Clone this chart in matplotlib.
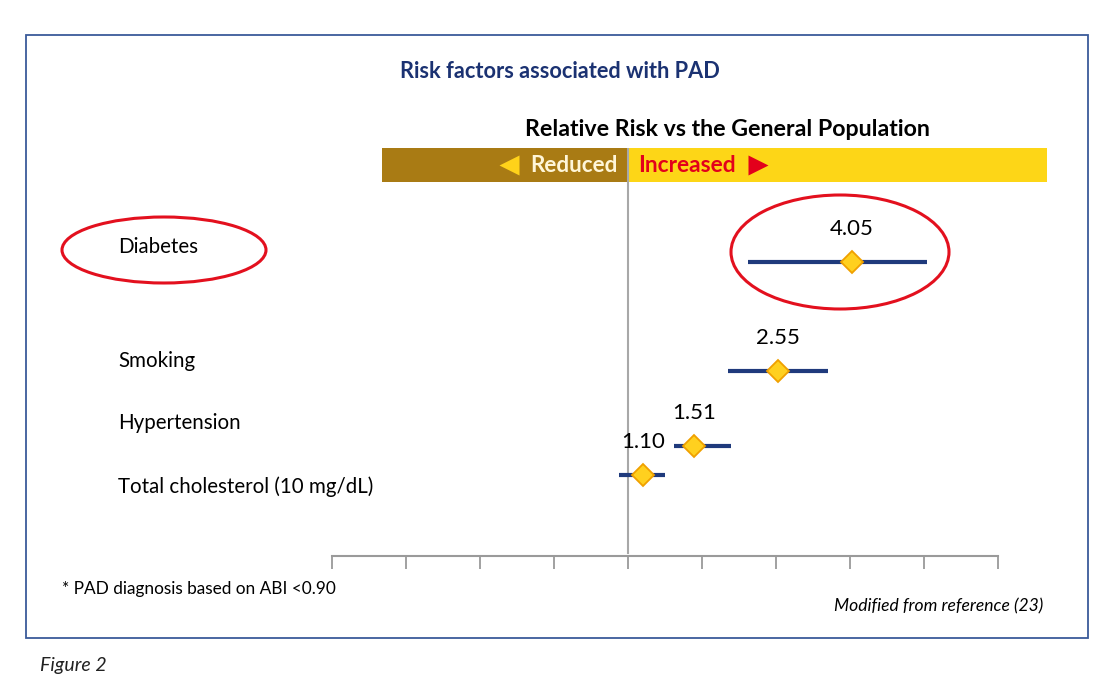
import matplotlib
matplotlib.use("Agg")
import matplotlib.pyplot as plt
from matplotlib.patches import Rectangle, Ellipse

# ---------------- data ----------------
factors = ["Diabetes", "Smoking", "Hypertension", "Total cholesterol (10 mg/dL)"]
relative_risk = [4.05, 2.55, 1.51, 1.10]
rr_labels = ["4.05", "2.55", "1.51", "1.10"]
ci_low = [2.12, 1.87, 1.33, 0.945]
ci_high = [6.48, 3.49, 1.90, 1.26]
tick_exponents = [-8, -6, -4, -2, 0, 2, 4, 6, 8, 10]   # unlabeled log ticks (2^(e/3))

# ---------------- layout (pixels) ----------------
W, H = 1113, 697
row_y = [262, 371, 446, 475]
label_y = [247, 361, 423, 487]
value_dy = -33

FONT = ["Lato", "DejaVu Sans"]
plt.rcParams["font.family"] = FONT

fig = plt.figure(figsize=(W / 100, H / 100), dpi=100)
fig.patch.set_facecolor("white")

# overlay axes in pixel coordinates
ov = fig.add_axes([0, 0, 1, 1])
ov.set_xlim(0, W)
ov.set_ylim(H, 0)
ov.axis("off")

# frame
ov.add_patch(Rectangle((26, 35), 1062, 603, fill=False, edgecolor="#3a5a9a", lw=1.3))

# titles
ov.text(560, 71, "Risk factors associated with PAD", ha="center", va="center",
        fontsize=15.7, fontweight="bold", color="#1b3272")
ov.text(727, 130, "Relative Risk vs the General Population", ha="center", va="center",
        fontsize=16.7, fontweight="bold", color="black")

# band
ov.add_patch(Rectangle((382, 148), 245, 34, facecolor="#a97b14", edgecolor="none"))
ov.add_patch(Rectangle((627, 148), 420, 34, facecolor="#fdd617", edgecolor="none"))
ov.plot([509], [165], marker="<", ms=15, color="#ffd21a", mec="none")
ov.text(618, 165, "Reduced", ha="right", va="center", fontsize=16.2,
        fontweight="bold", color="#fff6d8")
ov.text(638, 165, "Increased", ha="left", va="center", fontsize=16.4,
        fontweight="bold", color="#e3001b")
ov.plot([758], [165], marker=">", ms=15, color="#e3001b", mec="none")

# category labels
for name, ly in zip(factors, label_y):
    ov.text(118, ly, name, ha="left", va="center", fontsize=14.8, color="black")

# ellipses
ov.add_patch(Ellipse((164, 250), 204, 66, fill=False, edgecolor="#e3101e", lw=2.2))
ov.add_patch(Ellipse((840, 252), 218, 114, fill=False, edgecolor="#e3101e", lw=2.2))

# footnotes
ov.text(62, 589, "* PAD diagnosis based on ABI <0.90", ha="left", va="center",
        fontsize=12.4, color="black")
ov.text(1043, 606, "Modified from reference (23)", ha="right", va="center",
        fontsize=12.6, style="italic", color="black")
ov.text(40, 665, "Figure 2", ha="left", va="center", fontsize=14,
        style="italic", color="#222222")

# ---------------- main forest axes ----------------
x0, x1, ytop, ybot = 332, 998, 148, 556
ax = fig.add_axes([x0 / W, (H - ybot) / H, (x1 - x0) / W, (ybot - ytop) / H])
ax.set_facecolor("none")
ax.set_xscale("log", base=2)
ticks = [2 ** (e / 3) for e in tick_exponents]
ax.set_xlim(ticks[0], ticks[-1])
ax.set_ylim(ybot, ytop)

for s in ["top", "right", "left"]:
    ax.spines[s].set_visible(False)
ax.spines["bottom"].set_color("#9a9a9a")
ax.spines["bottom"].set_linewidth(1.5)
ax.set_xticks(ticks)
ax.set_xticklabels([""] * len(ticks))
ax.xaxis.set_minor_locator(matplotlib.ticker.NullLocator())
ax.tick_params(axis="x", length=9, width=1.3, color="#9a9a9a", direction="out")
ax.set_yticks([])

# reference line at RR = 1
ax.plot([1, 1], [ytop, ybot - 3], color="#a8a8a8", lw=1.5, zorder=1)

# CI lines and diamonds
ax.hlines(row_y, ci_low, ci_high, color="#1f3a7c", lw=3, zorder=2)
ax.plot(relative_risk, row_y, linestyle="none", marker="D", ms=11,
        mfc="#ffd01f", mec="#f0a000", mew=1.3, zorder=3)

for v, lab, y in zip(relative_risk, rr_labels, row_y):
    ax.text(v, y + value_dy, lab, ha="center", va="center", fontsize=16, color="black")

fig.savefig("out.png", dpi=100, facecolor="white")
